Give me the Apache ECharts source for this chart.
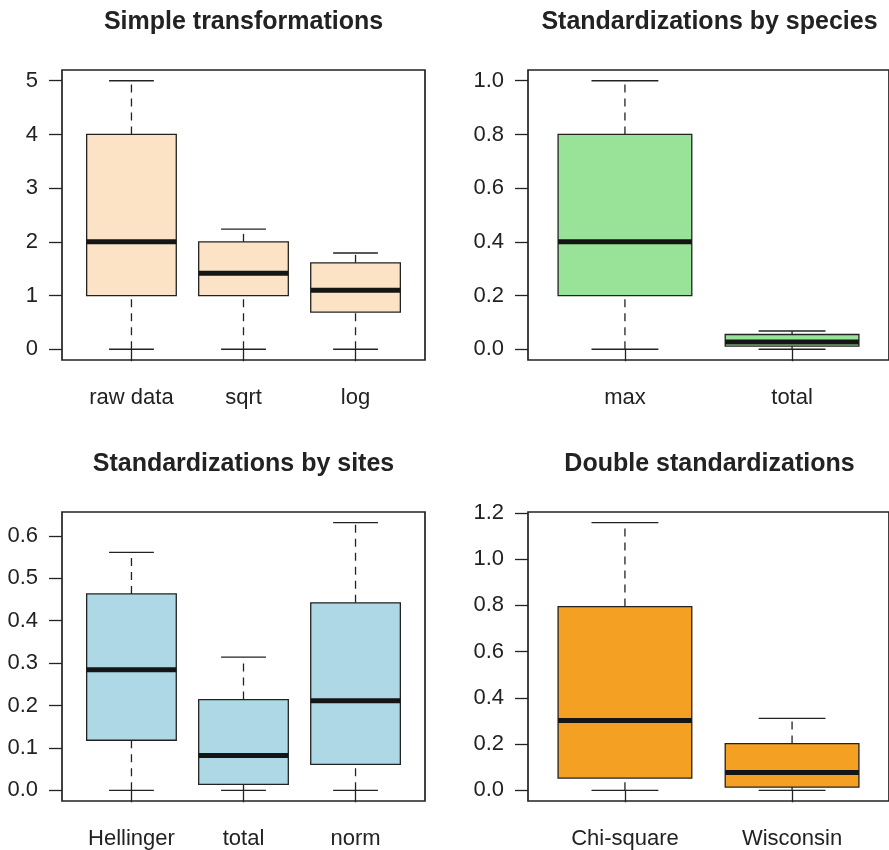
<!DOCTYPE html>
<html>
<head>
<meta charset="utf-8">
<title>Transformations and standardizations</title>
<script src="https://cdn.jsdelivr.net/npm/echarts@6.0.0/dist/echarts.min.js"></script>
<style>
  html, body { margin: 0; padding: 0; background: #fff; }
  #chart { width: 889px; height: 850px; }
</style>
</head>
<body>
<div id="chart"></div>
<script>
// ============================================================
// Data: five-number summaries (lower whisker, Q1, median, Q3, upper whisker)
// ============================================================

var simpleCategories = ['raw data', 'sqrt', 'log'];
var simpleStats = [
  [0, 1, 2, 4, 5],
  [0, 1, 1.414, 2, 2.236],
  [0, 0.693, 1.099, 1.609, 1.792]
];
var simpleTicks = [0, 1, 2, 3, 4, 5];

var speciesCategories = ['max', 'total'];
var speciesStats = [
  [0, 0.2, 0.4, 0.8, 1.0],
  [0, 0.012, 0.027, 0.055, 0.068]
];
var speciesTicks = [0, 0.2, 0.4, 0.6, 0.8, 1.0];

var sitesCategories = ['Hellinger', 'total', 'norm'];
var sitesStats = [
  [0, 0.118, 0.284, 0.463, 0.561],
  [0, 0.014, 0.082, 0.214, 0.314],
  [0, 0.061, 0.211, 0.442, 0.631]
];
var sitesTicks = [0, 0.1, 0.2, 0.3, 0.4, 0.5, 0.6];

var doubleCategories = ['Chi-square', 'Wisconsin'];
var doubleStats = [
  [0, 0.053, 0.302, 0.795, 1.158],
  [0, 0.014, 0.077, 0.202, 0.311]
];
var doubleTicks = [0, 0.2, 0.4, 0.6, 0.8, 1.0, 1.2];

// ============================================================
// Layout / style
// ============================================================

var FONT = '"Liberation Sans", Arial, Helvetica, sans-serif';
var INK = '#222';

var panels = [
  { title: 'Simple transformations', cats: simpleCategories, stats: simpleStats, ticks: simpleTicks,
    digits: 0, fill: '#fde3c6', grid: { left: 62, top: 70, width: 363, height: 290 } },
  { title: 'Standardizations by species', cats: speciesCategories, stats: speciesStats, ticks: speciesTicks,
    digits: 1, fill: '#99e398', grid: { left: 528, top: 70, width: 363, height: 290 } },
  { title: 'Standardizations by sites', cats: sitesCategories, stats: sitesStats, ticks: sitesTicks,
    digits: 1, fill: '#aed8e5', grid: { left: 62, top: 512, width: 363, height: 290 } },
  { title: 'Double standardizations', cats: doubleCategories, stats: doubleStats, ticks: doubleTicks,
    digits: 1, fill: '#f4a123', grid: { left: 528, top: 512, width: 363, height: 290 } }
];

// R-style box: dashed whiskers, short caps, thick median
function makeRenderItem(fill) {
  return function(params, api) {
    var x = api.value(0);
    var lo = api.value(1), q1 = api.value(2), med = api.value(3), q3 = api.value(4), hi = api.value(5);
    var unit = api.size([1, 0])[0];
    var half = unit * 0.4;
    var cap = unit * 0.2;
    var cx = api.coord([x, med])[0];
    var py = function(v) { return api.coord([x, v])[1]; };
    var thin = { stroke: INK, lineWidth: 1.3 };
    var dashed = { stroke: INK, lineWidth: 1.3, lineDash: [8, 6] };
    return {
      type: 'group',
      children: [
        { type: 'line', shape: { x1: cx, y1: py(q3), x2: cx, y2: py(hi) }, style: dashed },
        { type: 'line', shape: { x1: cx, y1: py(lo), x2: cx, y2: py(q1) }, style: dashed },
        { type: 'line', shape: { x1: cx - cap, y1: py(hi), x2: cx + cap, y2: py(hi) }, style: thin },
        { type: 'line', shape: { x1: cx - cap, y1: py(lo), x2: cx + cap, y2: py(lo) }, style: thin },
        { type: 'rect', shape: { x: cx - half, y: py(q3), width: half * 2, height: py(q1) - py(q3) },
          style: { fill: fill, stroke: INK, lineWidth: 1.3 } },
        { type: 'line', shape: { x1: cx - half, y1: py(med), x2: cx + half, y2: py(med) },
          style: { stroke: '#151515', lineWidth: 5 } }
      ]
    };
  };
}

var grids = [], xAxes = [], yAxes = [], series = [], titles = [];

panels.forEach(function(p, i) {
  var n = p.cats.length;
  var lows = p.stats.map(function(s) { return s[0]; });
  var highs = p.stats.map(function(s) { return s[4]; });
  var dMin = Math.min.apply(null, lows);
  var dMax = Math.max.apply(null, highs);
  var pad = (dMax - dMin) * 0.04;
  var catIdx = p.cats.map(function(c, k) { return k + 1; });

  grids.push(Object.assign({ show: true, borderColor: INK, borderWidth: 1.7, backgroundColor: 'transparent' }, p.grid));

  xAxes.push({
    type: 'value', gridIndex: i,
    min: 0.5 - 0.04 * n, max: n + 0.5 + 0.04 * n,
    axisLine: { show: false },
    splitLine: { show: false },
    axisTick: { show: true, customValues: catIdx, length: 12, lineStyle: { color: INK, width: 1.3 } },
    axisLabel: {
      show: true, customValues: catIdx, margin: 27,
      fontSize: 22, color: INK, fontFamily: FONT,
      formatter: function(v) { return p.cats[Math.round(v) - 1]; }
    }
  });

  yAxes.push({
    type: 'value', gridIndex: i,
    min: dMin - pad, max: dMax + pad,
    axisLine: { show: false },
    splitLine: { show: false },
    axisTick: { show: true, customValues: p.ticks, length: 13, lineStyle: { color: INK, width: 1.3 } },
    axisLabel: {
      show: true, customValues: p.ticks, margin: 24,
      fontSize: 22, color: INK, fontFamily: FONT,
      formatter: function(v) { return v.toFixed(p.digits); }
    }
  });

  series.push({
    type: 'custom', xAxisIndex: i, yAxisIndex: i,
    renderItem: makeRenderItem(p.fill),
    encode: { x: 0, y: [1, 2, 3, 4, 5] },
    clip: false,
    data: p.stats.map(function(s, k) { return [k + 1].concat(s); })
  });

  titles.push({
    text: p.title,
    left: p.grid.left + 181.5,
    top: p.grid.top - 60,
    textAlign: 'center',
    padding: 0,
    textStyle: { fontSize: 25, fontWeight: 'bold', color: INK, fontFamily: FONT }
  });
});

var chart = echarts.init(document.getElementById('chart'), null, { renderer: 'canvas' });
chart.setOption({
  animation: false,
  backgroundColor: '#fff',
  title: titles,
  grid: grids,
  xAxis: xAxes,
  yAxis: yAxes,
  series: series
});
</script>
</body>
</html>
